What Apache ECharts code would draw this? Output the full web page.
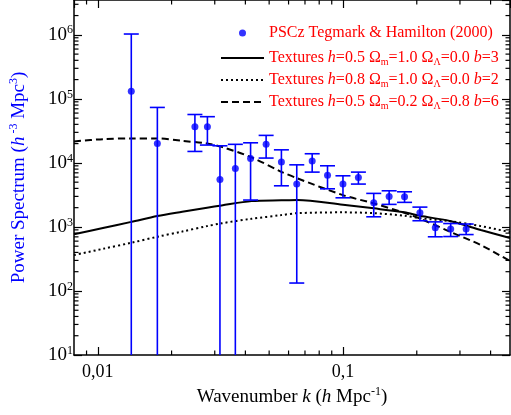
<!DOCTYPE html>
<html><head><meta charset="utf-8">
<script src="https://cdn.jsdelivr.net/npm/echarts@6/dist/echarts.min.js"></script>
<style>html,body{margin:0;padding:0;background:#fff}#c{width:511px;height:415px}</style>
</head><body><div id="c"></div>
<script>
// ---- data ----
const kData = [0.0137, 0.0175, 0.0249, 0.0280, 0.0315, 0.0364, 0.0420, 0.0486, 0.0561, 0.0648, 0.0749, 0.0865, 0.100, 0.1156, 0.1335, 0.1543, 0.1783, 0.206, 0.238, 0.275, 0.318];
const pData = [132000, 20100, 36600, 36800, 5520, 8200, 11700, 19500, 10300, 4670, 10700, 6440, 4670, 5940, 2380, 3000, 2960, 1660, 970, 927, 927];
const pHigh = [1030000, 73500, 57000, 52700, 18500, 19500, 20600, 26900, 16000, 9330, 13900, 9020, 6290, 7180, 3340, 3670, 3540, 2040, 1200, 1130, 1110];
const pLow  = [1, 1, 15100, 19000, 1, 1, 2630, 11900, 4390, 133, 7180, 3940, 2850, 4670, 1440, 2250, 2420, 1250, 702, 708, 760];

const curveK = [0.008, 0.0105, 0.0137, 0.0175, 0.0221, 0.0279, 0.032, 0.0424, 0.0561, 0.0652, 0.1, 0.1336, 0.178, 0.206, 0.275, 0.365, 0.48];
const solidP  = [766, 964, 1200, 1480, 1727, 2000, 2170, 2530, 2600, 2630, 2220, 1950, 1690, 1490, 1230, 893, 670];
const dottedP = [364, 455, 566, 702, 848, 1030, 1140, 1340, 1530, 1640, 1690, 1640, 1500, 1370, 1230, 1030, 832];
const dashedP = [21600, 23500, 24100, 24100, 22100, 20100, 17800, 12200, 7260, 5730, 3140, 2330, 1660, 1350, 832, 521, 293];

const seriesNames = ['PSCz Tegmark & Hamilton (2000)',
  'Textures h=0.5 \u03a9m=1.0 \u03a9\u039b=0.0 b=3',
  'Textures h=0.8 \u03a9m=1.0 \u03a9\u039b=0.0 b=2',
  'Textures h=0.5 \u03a9m=0.2 \u03a9\u039b=0.8 b=6'];
const legendRich = [
  '{p|PSCz Tegmark & Hamilton (2000)}',
  '{t|Textures }{i|h}{t|=0.5 \u03a9}{sub|m}{t|=1.0 \u03a9}{sub|\u039b}{t|=0.0 }{i|b}{t|=3}',
  '{t|Textures }{i|h}{t|=0.8 \u03a9}{sub|m}{t|=1.0 \u03a9}{sub|\u039b}{t|=0.0 }{i|b}{t|=2}',
  '{t|Textures }{i|h}{t|=0.5 \u03a9}{sub|m}{t|=0.2 \u03a9}{sub|\u039b}{t|=0.8 }{i|b}{t|=6}'];

const xMin = 0.008, xMax = 0.48, yMin = 10, yMax = 3.5e6;
const xTickLabels = {'-2': '0,01', '-1': '0,1'};

// minor tick positions (2..9 x 10^n)
const yMinor = [], xMinor = [];
for (let e = 1; e <= 6; e++) for (let m = 2; m <= 9; m++) { const v = m * Math.pow(10, e); if (v < yMax) yMinor.push(v); }
for (let e = -3; e <= -1; e++) for (let m = 2; m <= 9; m++) { const v = m * Math.pow(10, e); if (v > xMin && v < xMax) xMinor.push(v); }

const FF = 'Liberation Serif, DejaVu Serif, serif';
const BLUE = '#0000ff';

function isPow10(v) { const l = Math.log10(v); return Math.abs(l - Math.round(l)) < 1e-6 ? Math.round(l) : null; }

const chart = echarts.init(document.getElementById('c'), null, {renderer: 'canvas'});
const logAxisCommon = {type: 'log', logBase: 10, splitLine: {show: false}, minorTick: {show: false}, minorSplitLine: {show: false}};

chart.setOption({
  animation: false,
  backgroundColor: '#fff',
  grid: {left: 71, right: 1, top: 0, bottom: 60, containLabel: false},
  xAxis: [
    Object.assign({}, logAxisCommon, {
      min: xMin, max: xMax, position: 'bottom',
      axisLine: {show: true, onZero: false, lineStyle: {color: '#000', width: 1.5}},
      axisTick: {show: true, inside: true, length: 8, lineStyle: {color: '#000', width: 1.2}},
      axisLabel: {show: true, margin: 8, showMinLabel: false, showMaxLabel: false, color: '#000', fontFamily: FF, fontSize: 18,
        formatter: v => { const e = isPow10(v); return e === null ? '' : (xTickLabels[String(e)] || ''); }},
      name: '{t|Wavenumber }{i|k}{t| (}{i|h}{t| Mpc}{sup|-1}{t|)}',
      nameLocation: 'middle', nameGap: 24,
      nameTextStyle: {color: '#000', fontFamily: FF, fontSize: 19, rich: {
        t: {fontFamily: FF, fontSize: 19, color: '#000'},
        i: {fontFamily: FF, fontSize: 19, fontStyle: 'italic', color: '#000'},
        sup: {fontFamily: FF, fontSize: 12, color: '#000', padding: [0, 0, 10, 0]}}}
    }),
    Object.assign({}, logAxisCommon, {
      min: xMin, max: xMax, position: 'top',
      axisLine: {show: true, onZero: false, lineStyle: {color: '#000', width: 1.5}},
      axisTick: {show: true, inside: true, length: 8, lineStyle: {color: '#000', width: 1.2}},
      axisLabel: {show: false}
    })
  ],
  yAxis: [
    Object.assign({}, logAxisCommon, {
      min: yMin, max: yMax, position: 'left',
      axisLine: {show: true, onZero: false, lineStyle: {color: '#000', width: 1.5}},
      axisTick: {show: true, inside: true, length: 8, lineStyle: {color: '#000', width: 1.2}},
      axisLabel: {show: true, margin: 1, showMaxLabel: false, color: '#000',
        formatter: v => { const e = isPow10(v); return e === null ? '' : '{b|10}{s|' + e + '}'; },
        rich: {b: {fontFamily: FF, fontSize: 19, color: '#000'},
               s: {fontFamily: FF, fontSize: 12, color: '#000', padding: [0, 0, 9, 0]}}},
      name: '{t|Power Spectrum (}{i|h}{sup| -3}{t| Mpc}{sup|3}{t|)}',
      nameLocation: 'middle', nameGap: 44, nameRotate: 90,
      nameTextStyle: {color: BLUE, fontFamily: FF, fontSize: 19, rich: {
        t: {fontFamily: FF, fontSize: 19, color: BLUE},
        i: {fontFamily: FF, fontSize: 19, fontStyle: 'italic', color: BLUE},
        sup: {fontFamily: FF, fontSize: 12, color: BLUE, padding: [0, 0, 10, 0]}}}
    }),
    Object.assign({}, logAxisCommon, {
      min: yMin, max: yMax, position: 'right',
      axisLine: {show: true, onZero: false, lineStyle: {color: '#000', width: 1.5}},
      axisTick: {show: true, inside: true, length: 8, lineStyle: {color: '#000', width: 1.2}},
      axisLabel: {show: false}
    })
  ],
  legend: {
    orient: 'vertical', left: 220, top: 21, padding: 0, itemWidth: 43, itemHeight: 7, itemGap: 4,
    data: [
      {name: seriesNames[0]},
      {name: seriesNames[1], itemStyle: {opacity: 0}},
      {name: seriesNames[2], itemStyle: {opacity: 0}},
      {name: seriesNames[3], itemStyle: {opacity: 0}}
    ],
    formatter: name => legendRich[seriesNames.indexOf(name)],
    textStyle: {color: '#ff0000', fontFamily: FF, fontSize: 16, rich: {
      p: {fontFamily: FF, fontSize: 16, color: '#ff0000', lineHeight: 21, padding: [4, 0, 4, 0]},
      t: {fontFamily: FF, fontSize: 16, color: '#ff0000', lineHeight: 21},
      i: {fontFamily: FF, fontSize: 16, fontStyle: 'italic', color: '#ff0000', lineHeight: 21},
      sub: {fontFamily: FF, fontSize: 10, color: '#ff0000', lineHeight: 21, padding: [8, 0, 0, 0]}}},
    selectedMode: false
  },
  series: [
    {
      type: 'custom', name: 'minorY', silent: true, z: 3,
      data: yMinor.map(v => [xMin, v]),
      renderItem: (params, api) => {
        const p = api.coord([xMin, api.value(1)]);
        const cs = params.coordSys;
        return {type: 'group', children: [
          {type: 'line', shape: {x1: cs.x, y1: p[1], x2: cs.x + 4.5, y2: p[1]}, style: {stroke: '#000', lineWidth: 1.2}},
          {type: 'line', shape: {x1: cs.x + cs.width, y1: p[1], x2: cs.x + cs.width - 4.5, y2: p[1]}, style: {stroke: '#000', lineWidth: 1.2}}
        ]};
      }
    },
    {
      type: 'custom', name: 'minorX', silent: true, z: 3,
      data: xMinor.map(v => [v, yMin]),
      renderItem: (params, api) => {
        const p = api.coord([api.value(0), yMin]);
        const cs = params.coordSys;
        return {type: 'group', children: [
          {type: 'line', shape: {x1: p[0], y1: cs.y + cs.height, x2: p[0], y2: cs.y + cs.height - 4.5}, style: {stroke: '#000', lineWidth: 1.2}},
          {type: 'line', shape: {x1: p[0], y1: cs.y, x2: p[0], y2: cs.y + 4.5}, style: {stroke: '#000', lineWidth: 1.2}}
        ]};
      }
    },
    {
      type: 'custom', name: 'errbars', z: 4, clip: true,
      data: kData.map((k, i) => [k, pLow[i], pHigh[i]]),
      encode: {x: 0, y: [1, 2]},
      renderItem: (params, api) => {
        const k = api.value(0);
        const lo = api.coord([k, api.value(1)]);
        const hi = api.coord([k, api.value(2)]);
        const cs = params.coordSys;
        const bottom = cs.y + cs.height;
        const yl = Math.min(lo[1], bottom);
        const st = {stroke: BLUE, lineWidth: 1.6};
        const ch = [{type: 'line', shape: {x1: hi[0], y1: hi[1], x2: hi[0], y2: yl}, style: st},
                    {type: 'line', shape: {x1: hi[0] - 7.5, y1: hi[1], x2: hi[0] + 7.5, y2: hi[1]}, style: st}];
        if (lo[1] <= bottom) ch.push({type: 'line', shape: {x1: lo[0] - 7.5, y1: lo[1], x2: lo[0] + 7.5, y2: lo[1]}, style: st});
        return {type: 'group', children: ch};
      }
    },
    {
      type: 'scatter', name: seriesNames[0], z: 5,
      data: kData.map((k, i) => [k, pData[i]]),
      symbol: 'circle', symbolSize: 7, itemStyle: {color: BLUE}
    },
    {
      type: 'line', name: seriesNames[1], z: 3, smooth: 0.3, showSymbol: false, symbol: 'none', symbolSize: 0,
      data: curveK.map((k, i) => [k, solidP[i]]),
      lineStyle: {color: '#000', width: 2, type: 'solid'}, itemStyle: {color: '#000'}
    },
    {
      type: 'line', name: seriesNames[2], z: 3, smooth: 0.3, showSymbol: false, symbol: 'none', symbolSize: 0,
      data: curveK.map((k, i) => [k, dottedP[i]]),
      lineStyle: {color: '#000', width: 2, type: [2, 3]}, itemStyle: {color: '#000'}
    },
    {
      type: 'line', name: seriesNames[3], z: 3, smooth: 0.3, showSymbol: false, symbol: 'none', symbolSize: 0,
      data: curveK.map((k, i) => [k, dashedP[i]]),
      lineStyle: {color: '#000', width: 2, type: [7, 4]}, itemStyle: {color: '#000'}
    }
  ]
});
</script>
</body></html>
